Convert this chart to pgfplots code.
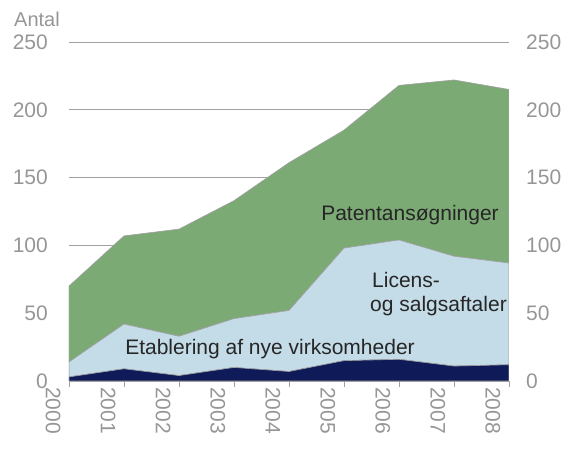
\documentclass[border=0pt]{standalone}
\usepackage{pgfplots}
\pgfplotsset{compat=1.18}
\usepackage{fontspec}
\setmainfont{Liberation Sans}
\definecolor{patgreen}{RGB}{123,170,116}
\definecolor{licblue}{RGB}{196,219,232}
\definecolor{etabnavy}{RGB}{14,27,88}
\definecolor{ticktext}{RGB}{150,150,150}
\definecolor{gridgray}{RGB}{160,160,160}

\pgfplotstableread{
year etab lic pat
2000 3  11 56
2001 9  33 65
2002 4  29 79
2003 10 36 87
2004 7  45 109
2005 15 83 87
2006 16 88 114
2007 11 81 130
2008 12 75 128
}\data

\begin{document}
\begin{tikzpicture}[x=1pt,y=1pt]
\useasboundingbox (0,0) rectangle (567,449);
\begin{axis}[
    at={(69pt,68pt)}, anchor=south west,
    scale only axis, width=440pt, height=339pt,
    xmin=2000, xmax=2008, ymin=0, ymax=250,
    stack plots=y,
    axis x line*=bottom, axis y line*=left,
    x axis line style={-, draw=gridgray, line width=1.6pt},
    y axis line style={draw=none},
    xtick={2000,...,2008},
    ytick={0,50,...,250},
    ytick style={draw=none},
    xtick style={draw=gridgray, line width=0.8pt},
    tick align=outside, major tick length=6pt,
    ymajorgrids, grid style={gridgray, line width=0.8pt},
    /pgf/number format/assume math mode=true,
    /pgf/number format/1000 sep={},
    tick label style={font=\fontsize{21}{21}\selectfont, text=ticktext},
    xticklabel style={rotate=-90, anchor=west, inner sep=0pt, yshift=-16pt},
    yticklabel style={anchor=east, inner sep=0pt, xshift=-15pt},
]
\addplot[fill=etabnavy, draw=gridgray, line width=0.6pt] table[x=year, y=etab] {\data} \closedcycle;
\addplot[fill=licblue, draw=gridgray, line width=0.6pt] table[x=year, y=lic] {\data} \closedcycle;
\addplot[fill=patgreen, draw=gridgray, line width=0.6pt] table[x=year, y=pat] {\data} \closedcycle;
\end{axis}
\begin{axis}[
    at={(69pt,68pt)}, anchor=south west,
    scale only axis, width=440pt, height=339pt,
    xmin=2000, xmax=2008, ymin=0, ymax=250,
    hide x axis,
    axis y line*=right,
    y axis line style={draw=none},
    ytick={0,50,...,250},
    ytick style={draw=none},
    /pgf/number format/assume math mode=true,
    tick label style={font=\fontsize{21}{21}\selectfont, text=ticktext},
    yticklabel style={anchor=west, inner sep=0pt, xshift=17pt},
]
\end{axis}
\begin{scope}[every node/.style={inner sep=0pt, font=\fontsize{21}{21}\selectfont, text=black!85}]
\node at (410,234) {Patentansøgninger};
\node[anchor=west] at (372,169) {Licens-};
\node[anchor=west] at (370,143) {og salgsaftaler};
\node at (270,100) {Etablering af nye virksomheder};
\end{scope}
\node[anchor=west, inner sep=0pt, font=\fontsize{20}{20}\selectfont, text=ticktext] at (14,430) {Antal};
\end{tikzpicture}
\end{document}
